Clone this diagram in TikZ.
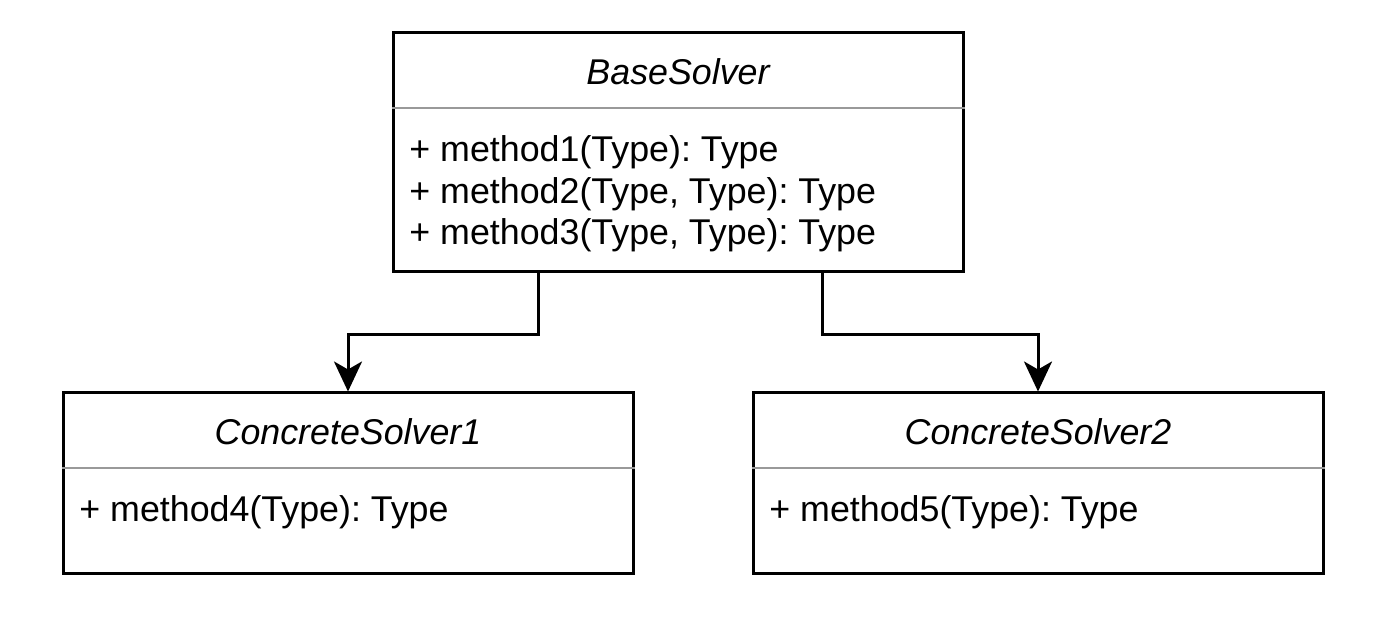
\documentclass[tikz,border=0pt]{standalone}
\usepackage{fontspec}
\setmainfont{Liberation Sans}
\usetikzlibrary{arrows.meta,positioning}
\frenchspacing
\begin{document}
\begin{tikzpicture}[x=0.5pt,y=-0.5pt,
		classbox/.style={rectangle,draw,line width=1.5pt,minimum width=285pt,inner sep=0pt},
		sepline/.style={draw=black!40,line width=1pt},
		title/.style={font=\fontsize{17.9}{21}\selectfont\itshape,inner sep=0pt},
		members/.style={font=\fontsize{17.9}{20.75}\selectfont,align=left,anchor=west,inner sep=0pt},
		inherit/.style={line width=1.5pt,-{Stealth[length=15pt,width=14pt,inset=4pt]}} ]
	\useasboundingbox (0,0) rectangle (1390,635);
	% classes
	\node [classbox,minimum height=119.5pt] (base) at (678,152.5) {};
	\node [classbox,minimum height=90pt] (cs1) at (348,483) {};
	\node [classbox,minimum height=90pt] (cs2) at (1038,483) {};
	% separators
	\draw [sepline] ([yshift=-38.5pt]base.north west) -- ([yshift=-38.5pt]base.north east);
	\draw [sepline] ([yshift=-38pt]cs1.north west) -- ([yshift=-38pt]cs1.north east);
	\draw [sepline] ([yshift=-38pt]cs2.north west) -- ([yshift=-38pt]cs2.north east);
	% texts
	\node [title] (base-name) at (678,72) {BaseSolver};
	\node [members] (base-methods) at (409,194) {\frenchspacing+ method1(Type): Type\\+ method2(Type, Type): Type\\+ method3(Type, Type): Type};
	\node [title] (cs1-name) at (348,432) {ConcreteSolver1};
	\node [members] (cs1-methods) at (79,512) {\frenchspacing+ method4(Type): Type};
	\node [title] (cs2-name) at (1038,432) {ConcreteSolver2};
	\node [members] (cs2-methods) at (769,512) {\frenchspacing+ method5(Type): Type};
	% inheritance
	\draw [inherit] ([xshift=-70pt]base.south) -- ++(0,61) -| (cs1.north);
	\draw [inherit] ([xshift=72pt]base.south) -- ++(0,61) -| (cs2.north);
\end{tikzpicture}
\end{document}
